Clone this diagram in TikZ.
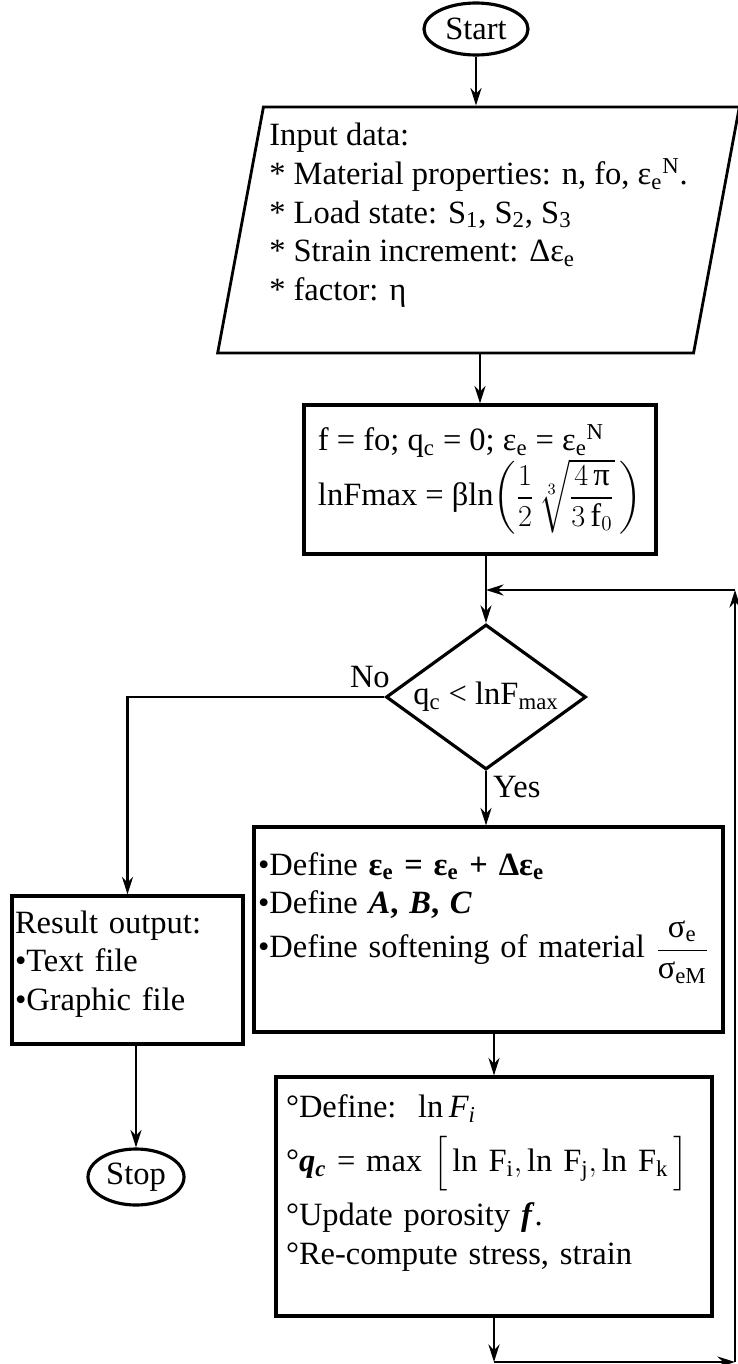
\documentclass[tikz,border=0pt]{standalone}
\usepackage{amsmath}
\usepackage{fontspec}
\setmainfont{Liberation Serif}
\usepackage{tikz}
\usetikzlibrary{shapes.geometric, arrows.meta, positioning, calc}
\newcommand{\chartfont}{\fontsize{18.5}{22}\selectfont}

\begin{document}
\begin{tikzpicture}[
    startstop/.style={ellipse, draw, line width=1.8pt, inner sep=0pt, font=\chartfont},
    io/.style={trapezium, trapezium left angle=78.5, trapezium right angle=101.5, trapezium stretches=true, draw, line width=1.6pt, align=left, minimum width=10.34cm, minimum height=4.92cm, font=\chartfont},
    process/.style={rectangle, draw, line width=1.8pt, align=left, font=\chartfont},
    decision/.style={diamond, draw, line width=1.8pt, aspect=1.38, inner sep=0pt, minimum width=4cm, minimum height=2.9cm, font=\chartfont},
    flow/.style={-{Stealth[length=3.5mm, width=2.2mm]}, line width=1.5pt},
    yesno/.style={font=\chartfont}
  ]
    \useasboundingbox (0,0) rectangle (14.74,-27.28);

    % Start and stop
    \node[startstop, minimum width=2.08cm, minimum height=1.04cm] (start) at (9.52, -0.58) {Start};
    \node[startstop, minimum width=1.92cm, minimum height=1.12cm] (stop) at (2.72, -23.54) {Stop};

    % Input
    \node[io] (input) at (9.57, -4.6) {Input data:\\
      * Material properties: n, fo, ε\textsubscript{e}\textsuperscript{N}.\\
      * Load state: S\textsubscript{1}, S\textsubscript{2}, S\textsubscript{3}\\
      * Strain increment: Δε\textsubscript{e}\\
      * factor: η\\[-0.05cm]\mbox{}};

    % Steps
    \node[process, minimum width=7.04cm, minimum height=2.98cm] (init) at (9.6, -9.59)
      {f = fo; q\textsubscript{c} = 0; ε\textsubscript{e} = ε\textsubscript{e}\textsuperscript{N}\\
       lnFmax = βln$\left(\dfrac{1}{2}\,\sqrt[3]{\dfrac{4\,\text{π}}{3\,\mathrm{f}_0}}\,\right)$};
    \node[decision] (check) at (9.72, -13.94) {q\textsubscript{c} < lnF\textsubscript{max}};
    \node[process, minimum height=4.1cm, text width=9.22cm, inner xsep=0.08cm] (define) at (9.77, -18.59)
      {•Define \textbf{ε\textsubscript{e} = ε\textsubscript{e} + Δε\textsubscript{e}}\\
       •Define \textbf{\textit{A}, \textit{B}, \textit{C}}\\
       •Define softening of material $\dfrac{\text{σ}_{\mathrm{e}}}{\text{σ}_{\mathrm{eM}}}$\\[0.2cm]
       \mbox{}};
    \node[process, minimum height=2.96cm, text width=4.5cm, inner xsep=0.06cm] (result) at (2.55, -19.4)
      {Result output:\\ •Text file\\ •Graphic file\\[-0.4cm] \mbox{}};
    \node[process, minimum height=4.78cm, text width=8.32cm, inner xsep=0.2cm] (update) at (9.88, -23.93)
      {°Define:\ \ ln\,\textit{F\textsubscript{i}}\\[0.25cm]
       \mbox{°\textbf{\textit{q\textsubscript{c}}} = max $\Bigl[\,\text{ln F}_{\text{i}},\text{ln F}_{\text{j}},\text{ln F}_{\text{k}}\,\Bigr]$}\\[0.2cm]
       °Update porosity \textbf{\textit{f}}.\\
       °Re-compute stress, strain\\[-0.1cm]
       \mbox{}};

    % Loop back points
    \coordinate (loopdown) at (9.88, -27.24);
    \coordinate (loopright) at (14.7, -27.24);
    \coordinate (looptop) at (14.7, -11.8);
    \coordinate (loopjoin) at (9.72, -11.8);

    % Flows
    \draw[flow] (start) -- (start |- input.north);
    \draw[flow] (init.north |- input.south) -- (init);
    \draw[flow] (check.north |- init.south) -- (check);
    \draw[flow] (check) -- node[yesno, pos=0.3, right] {Yes} (check.south |- define.north);
    \draw[flow] (check.west) -| node[yesno, pos=0, above left, xshift=0.25cm, yshift=0.05cm] {No} (result);
    \draw[flow] (update.north |- define.south) -- (update);
    \draw[flow] (result.south -| stop) -- (stop);

    % Loop back to the check
    \draw[flow] (update) -- (loopdown);
    \draw[flow] (loopdown) -- (loopright);
    \draw[flow] (loopright) -- (looptop);
    \draw[flow] (looptop) -- (loopjoin);

  \end{tikzpicture}
\end{document}
